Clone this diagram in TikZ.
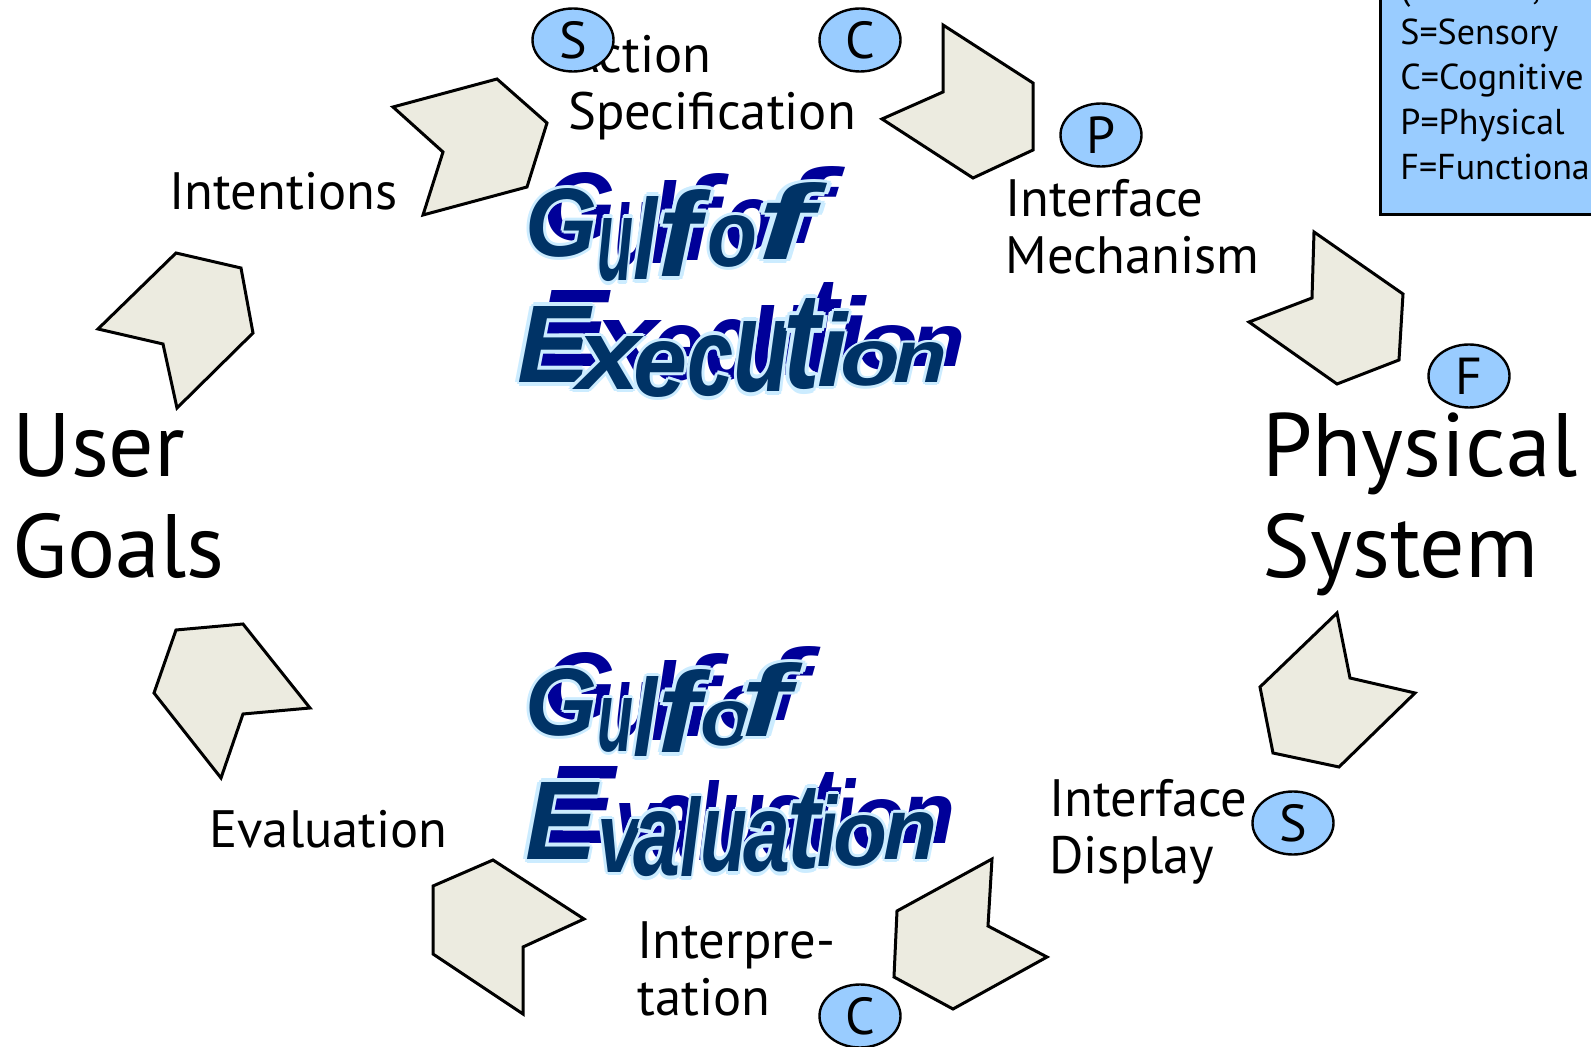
\documentclass[tikz,border=0pt]{standalone}
\usepackage{fontspec}
\setmainfont{PT Sans}
\newfontfamily\wafont{Liberation Sans}
\usetikzlibrary{shapes.geometric}

\definecolor{chevfill}{HTML}{ECEBE0}
\definecolor{badgefill}{HTML}{99CCFF}
\definecolor{wafill}{HTML}{003366}
\definecolor{waedge}{HTML}{CCECFF}
\definecolor{washadow}{HTML}{000099}

% light rim round a wordart letter, then the letter itself
\newcommand\waglyph[1]{%
  \rlap{\smash{\color{waedge}%
    \foreach \dx/\dy in {1.5/0,-1.5/0,0/1.5,0/-1.5,1/1,-1/1,1/-1,-1/-1}%
      {\rlap{\hspace*{\dx pt}\raisebox{\dy pt}{#1}}}}}%
  \textcolor{wafill}{#1}}

% letter/left/top/right/bottom
\def\gulfexe{G/525/190/597/258, u/597/220/633/282, l/633/197/657/280, f/657/190/700/277,
  o/707/217/757/268, f/757/183/813/260,
  E/517/307/590/383, x/577/337/640/390, e/633/343/687/398, c/687/337/733/397,
  u/733/323/790/393, t/783/300/820/390, i/817/312/847/387, o/840/343/900/387, n/893/343/947/383}
\def\gulfeva{G/525/670/597/737, u/597/700/633/753, l/633/677/657/757, f/657/670/700/753,
  o/700/703/753/747, f/740/663/790/737,
  E/525/783/597/860, v/597/820/640/873, a/633/813/680/877, l/680/797/700/877,
  u/700/813/747/873, a/743/813/790/873, t/787/790/820/870, i/817/795/837/867,
  o/833/817/887/867, n/883/813/937/860}

\begin{document}
\begin{tikzpicture}[x=0.5pt,y=-0.5pt,
  chev/.style={draw=black,line width=1.5pt,fill=chevfill},
  lbl/.style={font=\fontsize{26.3}{28.5}\selectfont,inner sep=0pt,anchor=base west,align=left},
  big/.style={font=\fontsize{45}{50.5}\selectfont,inner sep=0pt,anchor=base west,align=left},
  badge/.style={ellipse,draw=black,line width=1.2pt,fill=badgefill,minimum width=40.5pt,
    minimum height=31.5pt,inner sep=0pt,font=\fontsize{26}{28}\selectfont},
  wa/.style={inner sep=0pt,anchor=south west,font=\wafont\bfseries\itshape\fontsize{46}{46}\selectfont}]
\useasboundingbox (0,0) rectangle (1591,1047);
\clip (0,0) rectangle (1591,1047);

% key box, cut by the top right corner
\draw[fill=badgefill,line width=1.5pt] (1380,-20) rectangle (1620,215);
\node[inner sep=0pt,anchor=base west,align=left,font=\fontsize{18}{22.5}\selectfont] (key) at (1400,180)
  {(Hartson, 2003)\\S=Sensory\\C=Cognitive\\P=Physical\\F=Functional};

% arrows round the cycle
\draw[chev] (176,253) -- (241,268) -- (253,333) -- (177,408) -- (163,344) -- (98,329) -- cycle;
\draw[chev] (393,107) -- (497,79) -- (547,123) -- (527,187) -- (423,215) -- (443,152) -- cycle;
\draw[chev] (943,25) -- (1033,83) -- (1033,150) -- (973,178) -- (882,119) -- (943,92) -- cycle;
\draw[chev] (1314,232) -- (1403,294) -- (1399,360) -- (1337,384) -- (1249,322) -- (1312,298) -- cycle;
\draw[chev] (1337,613) -- (1350,678) -- (1415,693) -- (1339,767) -- (1273,753) -- (1260,687) -- cycle;
\draw[chev] (992,859) -- (988,926) -- (1047,957) -- (953,1009) -- (894,977) -- (897,911) -- cycle;
\draw[chev] (493,860) -- (584,919) -- (523,947) -- (523,1014) -- (433,954) -- (433,886) -- cycle;
\draw[chev] (176,630) -- (243,624) -- (310,708) -- (243,714) -- (221,778) -- (154,693) -- cycle;

% stages (multi-line nodes sit on their last line)
\node[big] (goals) at (12,578) {User\\Goals};
\node[big] (system) at (1262,578) {Physical\\System};
\node[lbl] (intent) at (169,210) {Intentions};
\node[lbl] (spec) at (568,130) {Action\\Specification};
\node[lbl] (mech) at (1005,274) {Interface\\Mechanism};
\node[lbl] (disp) at (1049,873) {Interface\\Display};
\node[lbl] (interp) at (637,1015) {Interpre-\\tation};
\node[lbl] (eval) at (209,847) {Evaluation};

% affordance badges
\node[badge] (s1) at (573,40) {S};
\node[badge] (c1) at (860,40) {C};
\node[badge] (p1) at (1101,135) {P};
\node[badge] (f1) at (1469,376) {F};
\node[badge] (s2) at (1293,823) {S};
\node[badge] (c2) at (860,1016) {C};

% gulf titles: shadows first, then the letters
\foreach \gl/\lx/\ty/\rx/\by [count=\i] in \gulfexe {
  \pgfmathsetlengthmacro\waw{(\rx-\lx)*0.5pt}
  \pgfmathsetlengthmacro\wah{(\by-\ty)*0.5pt}
  \node[wa] (xs\i) at (\lx+18,\by-16) {\resizebox{\waw}{\wah}{\color{washadow}\gl}};
}
\foreach \gl/\lx/\ty/\rx/\by [count=\i] in \gulfeva {
  \pgfmathsetlengthmacro\waw{(\rx-\lx)*0.5pt}
  \pgfmathsetlengthmacro\wah{(\by-\ty)*0.5pt}
  \node[wa] (vs\i) at (\lx+18,\by-16) {\resizebox{\waw}{\wah}{\color{washadow}\gl}};
}
\foreach \gl/\lx/\ty/\rx/\by [count=\i] in \gulfexe {
  \pgfmathsetlengthmacro\waw{(\rx-\lx)*0.5pt}
  \pgfmathsetlengthmacro\wah{(\by-\ty)*0.5pt}
  \node[wa] (x\i) at (\lx,\by) {\resizebox{\waw}{\wah}{\waglyph{\gl}}};
}
\foreach \gl/\lx/\ty/\rx/\by [count=\i] in \gulfeva {
  \pgfmathsetlengthmacro\waw{(\rx-\lx)*0.5pt}
  \pgfmathsetlengthmacro\wah{(\by-\ty)*0.5pt}
  \node[wa] (v\i) at (\lx,\by) {\resizebox{\waw}{\wah}{\waglyph{\gl}}};
}
\end{tikzpicture}
\end{document}
